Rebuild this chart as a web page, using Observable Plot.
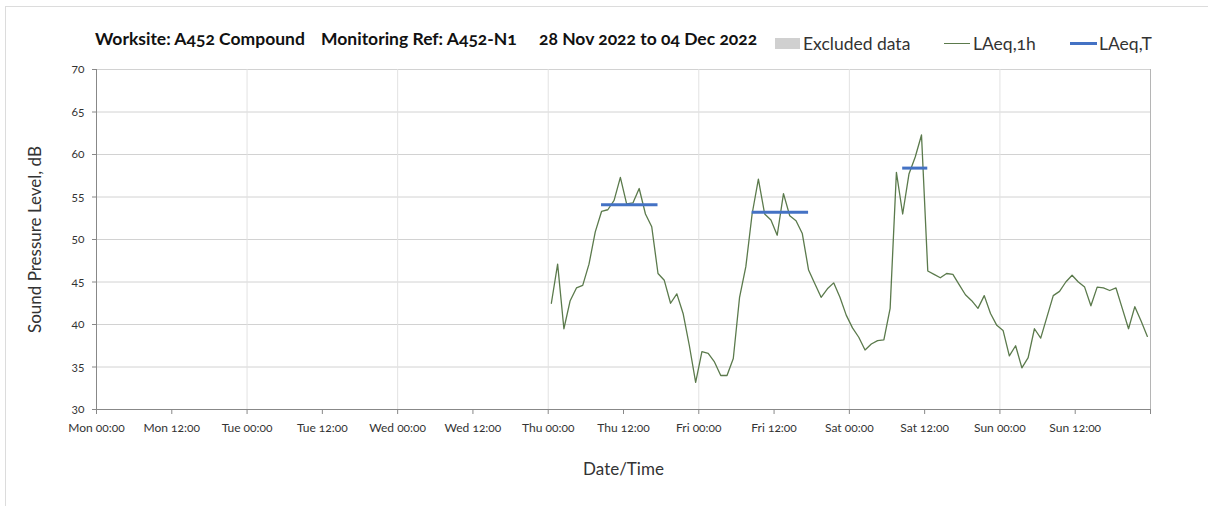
<!DOCTYPE html>
<html><head><meta charset="utf-8">
<script src="https://cdn.jsdelivr.net/npm/d3@7"></script>
<script src="https://cdn.jsdelivr.net/npm/@observablehq/plot@0.6"></script>
<style>
body{margin:0;background:#fff;font-family:Lato,"Open Sans",sans-serif;font-feature-settings:"onum" 1;}
#wrap{position:relative;width:1208px;height:506px;overflow:hidden;}
#frame{position:absolute;left:5px;top:6px;width:1203px;height:500px;border-top:1px solid #dcdcdc;border-left:1px solid #dcdcdc;}
.hdr{position:absolute;top:28px;font-weight:bold;font-size:17.5px;color:#111;white-space:nowrap;}
.leg{position:absolute;top:33px;font-size:17.5px;color:#333;white-space:nowrap;}
.sw{position:absolute;}
#chart{position:absolute;left:0;top:55px;}
#chart svg text{font-feature-settings:"onum" 1;}
</style></head>
<body>
<div id="wrap">
  <div id="frame"></div>
  <div class="hdr" style="left:95px">Worksite: A452 Compound</div>
  <div class="hdr" style="left:321px">Monitoring Ref: A452-N1</div>
  <div class="hdr" style="left:539px">28 Nov 2022 to 04 Dec 2022</div>
  <div class="sw" style="left:775px;top:38px;width:25px;height:11px;background:#d0d0d0"></div>
  <div class="leg" style="left:803px">Excluded data</div>
  <div class="sw" style="left:944px;top:43px;width:26px;height:1.4px;background:#5b7a4c"></div>
  <div class="leg" style="left:973px">LAeq,1h</div>
  <div class="sw" style="left:1070px;top:42px;width:27px;height:3px;background:#4472c4"></div>
  <div class="leg" style="left:1099px">LAeq,T</div>
  <div id="chart"></div>
</div>
<script>
// Hourly LAeq,1h readings from Thu 01 Dec 2022 00:30 (one per hour)
const firstReading = Date.UTC(2022, 11, 1, 0, 30);
const laeq1h = [
  42.5, 47.1, 39.5, 42.8, 44.3, 44.6, 47.1, 50.9, 53.3, 53.5, 54.6, 57.3,
  54.2, 54.3, 56.0, 53.0, 51.5, 46.0, 45.2, 42.5, 43.6, 41.3, 37.5, 33.2,
  36.8, 36.6, 35.6, 34.0, 34.0, 36.0, 43.2, 46.8, 53.0, 57.1, 53.0, 52.3,
  50.5, 55.4, 52.8, 52.2, 50.7, 46.4, 44.8, 43.2, 44.2, 44.9, 43.2, 41.1,
  39.6, 38.5, 37.0, 37.7, 38.1, 38.2, 41.9, 57.9, 53.0, 57.7, 59.7, 62.3,
  46.3, 45.9, 45.5, 46.0, 45.9, 44.7, 43.5, 42.8, 41.9, 43.4, 41.3, 39.9,
  39.3, 36.3, 37.5, 34.9, 36.1, 39.5, 38.4, 40.9, 43.4, 43.9, 45.0, 45.8,
  45.0, 44.4, 42.2, 44.4, 44.3, 44.0, 44.3, 41.9, 39.5, 42.1, 40.4, 38.6
];

// LAeq,T periods
const periodStart = ["2022-12-01T08:30Z", "2022-12-02T08:30Z", "2022-12-03T08:30Z"];
const periodEnd   = ["2022-12-01T17:30Z", "2022-12-02T17:30Z", "2022-12-03T12:30Z"];
const periodLevel = [54.1, 53.2, 58.4];

// Axes
const yTicks = [30, 35, 40, 45, 50, 55, 60, 65, 70];
const xTickLabels = ["Mon 00:00","Mon 12:00","Tue 00:00","Tue 12:00","Wed 00:00","Wed 12:00",
  "Thu 00:00","Thu 12:00","Fri 00:00","Fri 12:00","Sat 00:00","Sat 12:00","Sun 00:00","Sun 12:00"];
const yLabel = "Sound Pressure Level, dB";
const xLabel = "Date/Time";

const x0 = new Date(Date.UTC(2022, 10, 28));
const x1 = new Date(Date.UTC(2022, 11, 5));
const H12 = 12 * 3600e3;
const xTicks = d3.range(0, 15).map(i => new Date(+x0 + i * H12));
const dayLines = xTicks.filter((d, i) => i % 2 === 0 && i > 0 && i < 14);

const hourly = laeq1h.map((v, i) => ({t: new Date(firstReading + i * 3600e3), v}));
const periods = periodLevel.map((v, i) => ({start: new Date(periodStart[i]), end: new Date(periodEnd[i]), v}));

const chart = Plot.plot({
  width: 1208, height: 451,
  marginLeft: 96, marginRight: 58, marginTop: 14, marginBottom: 97,
  style: {fontFamily: 'Lato, "Open Sans", sans-serif', fontSize: "12px", color: "#333", background: "transparent", overflow: "visible"},
  x: {type: "utc", domain: [x0, x1]},
  y: {domain: [30, 70]},
  marks: [
    Plot.ruleY(yTicks.filter(d => d > 30), {stroke: "#d2d2d2", strokeWidth: 1}),
    Plot.ruleX(dayLines, {stroke: "#e2e2e2", strokeWidth: 1}),
    Plot.ruleX([x1], {stroke: "#b5b5b5"}),
    Plot.axisY({ticks: yTicks, tickSize: 4, tickPadding: 8, fontSize: 12, label: null, stroke: "#888", fill: "#333", tickFormat: d => String(d)}),
    Plot.axisX({ticks: xTicks, tickSize: 5, tickPadding: 9, fontSize: 12, label: null, stroke: "#888", fill: "#333",
      tickFormat: d => xTickLabels[Math.round((d - x0) / H12)] ?? ""}),
    Plot.ruleX([x0], {stroke: "#888"}),
    Plot.ruleY([30], {stroke: "#888"}),
    Plot.line(hourly, {x: "t", y: "v", stroke: "#5b7a4c", strokeWidth: 1.3}),
    Plot.ruleY(periods, {x1: "start", x2: "end", y: "v", stroke: "#4472c4", strokeWidth: 3}),
    Plot.text([yLabel], {frameAnchor: "left", textAnchor: "middle", lineAnchor: "middle", dx: -61, rotate: -90, fontSize: 17, fill: "#333"}),
    Plot.text([xLabel], {frameAnchor: "bottom", textAnchor: "middle", lineAnchor: "middle", dy: 60, fontSize: 17, fill: "#333"})
  ]
});
document.getElementById("chart").appendChild(chart);
</script>
</body></html>
